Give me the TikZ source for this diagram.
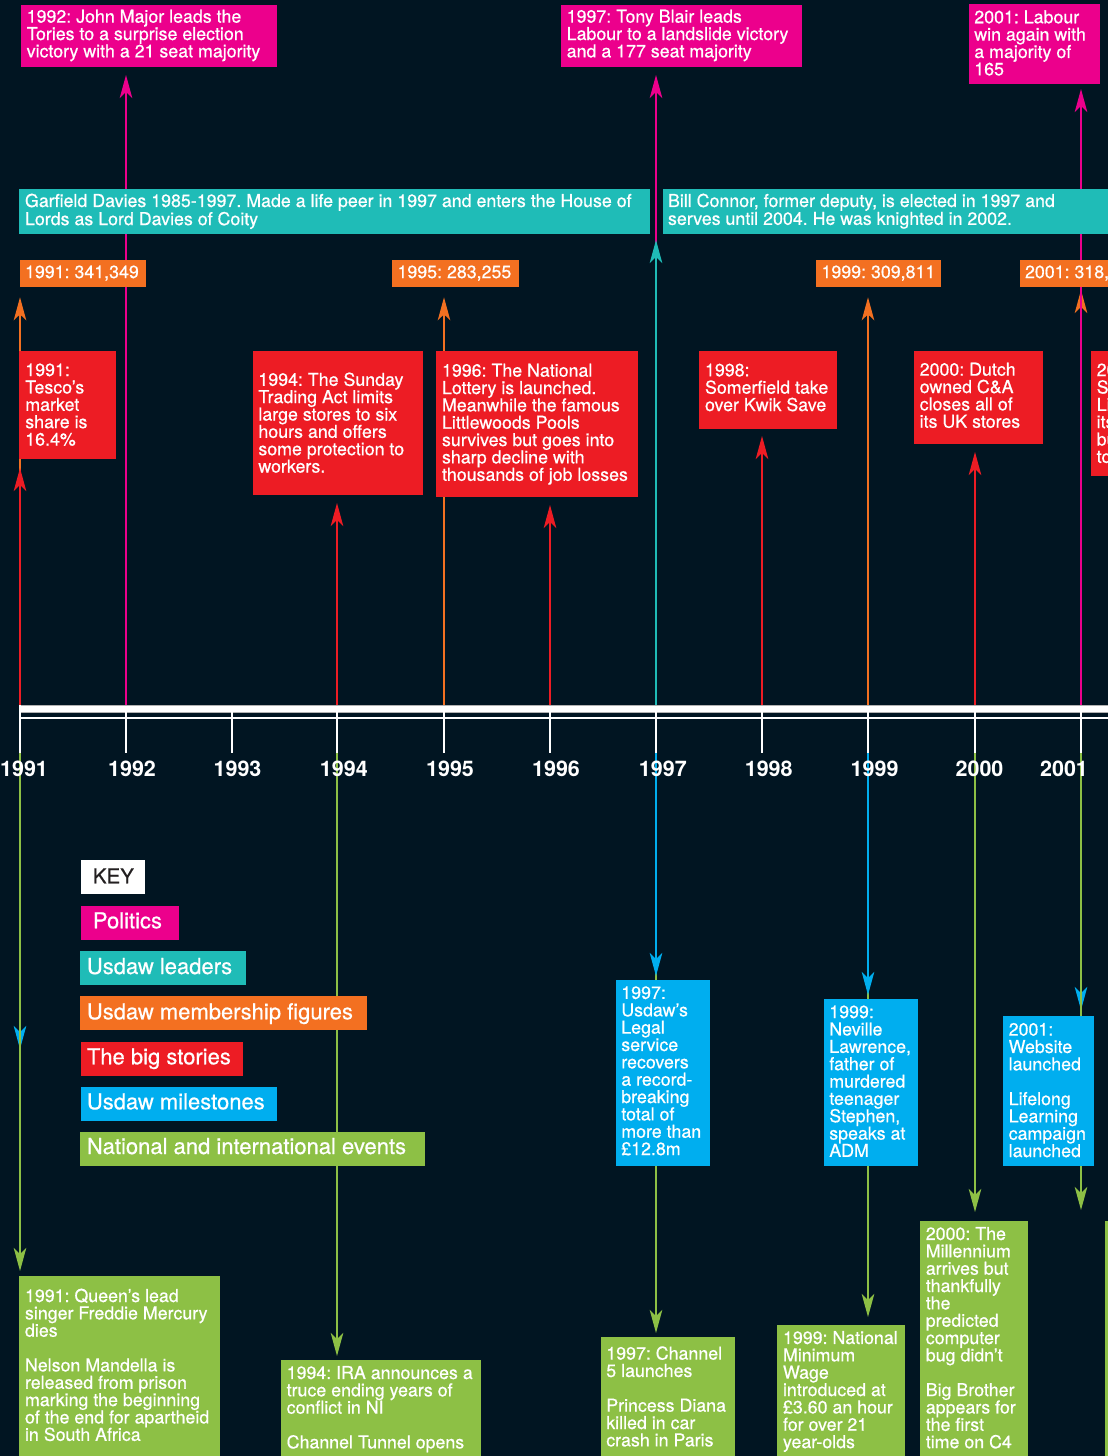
\documentclass[tikz,border=0pt]{standalone}
\usepackage{fontspec}
\setmainfont{TeX Gyre Heros}
\newfontfamily\medfont{TeX Gyre Heros}[FakeBold=0.6]
\usetikzlibrary{arrows.meta}
\definecolor{bg}{HTML}{011522}
\definecolor{cmag}{HTML}{EC008C}
\definecolor{cteal}{HTML}{1FBCB7}
\definecolor{corange}{HTML}{F37021}
\definecolor{cred}{HTML}{ED1C24}
\definecolor{cblue}{HTML}{00AEEF}
\definecolor{cgreen}{HTML}{8DC045}
\definecolor{ckey}{HTML}{231F20}
\newcommand\bodyfont{\medfont\frenchspacing\fontsize{17.8pt}{17.35pt}\selectfont}
\newcommand\tealfont{\medfont\frenchspacing\fontsize{17.8pt}{16.8pt}\selectfont}
\newcommand\keyfont{\medfont\fontsize{22pt}{24pt}\selectfont}
\newcommand\yearfont{\fontsize{21.5pt}{23pt}\selectfont\bfseries}
\pgfdeclarelayer{bgl}
\pgfdeclarelayer{lines}
\pgfsetlayers{bgl,lines,main}
\begin{document}
\begin{tikzpicture}[x=1pt,y=-1pt,
  conn/.style={line width=2pt,-{Stealth[length=23pt,width=12.5pt,inset=6pt]}},
  bx/.style 2 args={anchor=north west,inner sep=0pt,outer sep=0pt,minimum width=#1,minimum height=#2},
  txt/.style={anchor=north west,inner sep=0pt,outer sep=0pt,align=left,font=\bodyfont,text=white},
  keytxt/.style={anchor=base west,inner sep=0pt,font=\keyfont,text=white},
  yr/.style={anchor=base,inner sep=0pt,font=\yearfont,text=white},
  tickline/.style={white,line width=2pt},
]
\useasboundingbox (0,0) rectangle (1108,1456);
\begin{pgfonlayer}{bgl}
\fill[bg] (0,0) rectangle (1108,1456);
\end{pgfonlayer}
\clip (0,0) rectangle (1108,1456);

% year coordinates on the axis
\foreach \yy/\xx in {1991/20,1992/126,1993/232,1994/337,1995/444,1996/550,1997/656,1998/762,1999/868,2000/975,2001/1081}{
  \coordinate (a\yy) at (\xx,705);
  \coordinate (b\yy) at (\xx,718);
}
\coordinate (e1991) at (20,1049);

% ---------- Politics (magenta)
\node[bx={256pt}{61.7pt},fill=cmag] (m1992) at (21,5) {};
\node[txt] (m1992t) at (26.7,9.7) {1992: John Major leads the\\Tories to a surprise election\\victory with a 21 seat majority};
\node[bx={241pt}{61.7pt},fill=cmag] (m1997) at (561,5) {};
\node[txt] (m1997t) at (566.7,9.7) {1997: Tony Blair leads\\Labour to a landslide victory\\and a 177 seat majority};
\node[bx={130.7pt}{79.7pt},fill=cmag] (m2001) at (969,4) {};
\node[txt] (m2001t) at (974.3,10.3) {2001: Labour\\win again with\\a majority of\\165};

% ---------- Usdaw leaders (teal)
\node[bx={630.7pt}{44.7pt},fill=cteal] (t1) at (19,189) {};
\node[txt,font=\tealfont] (t1t) at (25,193.7) {Garfield Davies 1985-1997. Made a life peer in 1997 and enters the House of\\Lords as Lord Davies of Coity};
\node[bx={460pt}{44.7pt},fill=cteal] (t2) at (663,189) {};
\node[txt,font=\tealfont] (t2t) at (668,193.7) {Bill Connor, former deputy, is elected in 1997 and\\serves until 2004. He was knighted in 2002.};

% ---------- Membership figures (orange)
\node[bx={125.7pt}{27.3pt},fill=corange] (o1991) at (20,260) {};
\node[txt] (o1991t) at (25,265.5) {1991: 341,349};
\node[bx={126.4pt}{27.3pt},fill=corange] (o1995) at (392.3,260) {};
\node[txt] (o1995t) at (397.5,265.5) {1995: 283,255};
\node[bx={125pt}{27.3pt},fill=corange] (o1999) at (816,260) {};
\node[txt] (o1999t) at (821.5,265.5) {1999: 309,811};
\node[bx={100pt}{27.3pt},fill=corange] (o2001) at (1020,260) {};
\node[txt] (o2001t) at (1025,265.5) {2001: 318,};

% ---------- Big stories (red)
\node[bx={96.7pt}{108.3pt},fill=cred] (r1991) at (19,351) {};
\node[txt] (r1991t) at (25.3,363.5) {1991:\\Tesco’s\\market\\share is\\16.4\%};
\node[bx={169.6pt}{143.7pt},fill=cred] (r1994) at (253,351) {};
\node[txt] (r1994t) at (258.4,372.5) {1994: The Sunday\\Trading Act limits\\large stores to six\\hours and offers\\some protection to\\workers.};
\node[bx={202pt}{145.7pt},fill=cred] (r1996) at (436,351) {};
\node[txt] (r1996t) at (442,363.7) {1996: The National\\Lottery is launched.\\Meanwhile the famous\\Littlewoods Pools\\survives but goes into\\sharp decline with\\thousands of job losses};
\node[bx={137.7pt}{78pt},fill=cred] (r1998) at (699,351) {};
\node[txt] (r1998t) at (705,363.7) {1998:\\Somerfield take\\over Kwik Save};
\node[bx={129pt}{92.7pt},fill=cred] (r2000) at (914,351) {};
\node[txt] (r2000t) at (919.7,362.7) {2000: Dutch\\owned C\&A\\closes all of\\its UK stores};
\node[bx={40pt}{125pt},fill=cred] (r2001) at (1091.3,351) {};
\node[txt] (r2001t) at (1096.7,363.5) {20\\S\\Li\\its\\bu\\to};

% ---------- Usdaw milestones (blue)
\node[bx={93.7pt}{185.7pt},fill=cblue] (u1997) at (616,980) {};
\node[txt] (u1997t) at (621.3,986.3) {1997:\\Usdaw’s\\Legal\\service\\recovers\\a record-\\breaking\\total of\\more than\\£12.8m};
\node[bx={93.7pt}{166.7pt},fill=cblue] (u1999) at (824,999) {};
\node[txt] (u1999t) at (829.3,1005.5) {1999:\\Neville\\Lawrence,\\father of\\murdered\\teenager\\Stephen,\\speaks at\\ADM};
\node[bx={90.7pt}{149.7pt},fill=cblue] (u2001) at (1003,1016) {};
\node[txt] (u2001t) at (1008.7,1023) {2001:\\Website\\launched\\[17.35pt]Lifelong\\Learning\\campaign\\launched};

% ---------- National and international events (green)
\node[bx={200.7pt}{200pt},fill=cgreen] (g1991) at (19.3,1276) {};
\node[txt] (g1991t) at (25,1288.7) {1991: Queen’s lead\\singer Freddie Mercury\\dies\\[17.35pt]Nelson Mandella is\\released from prison\\marking the beginning\\of the end for apartheid\\in South Africa};
\node[bx={200pt}{120pt},fill=cgreen] (g1994) at (281,1360) {};
\node[txt] (g1994t) at (286.7,1366) {1994: IRA announces a\\truce ending years of\\conflict in NI\\[17.35pt]Channel Tunnel opens};
\node[bx={133.5pt}{140pt},fill=cgreen] (g1997) at (601,1337) {};
\node[txt] (g1997t) at (606.3,1346.3) {1997: Channel\\5 launches\\[17.35pt]Princess Diana\\killed in car\\crash in Paris};
\node[bx={127.6pt}{150pt},fill=cgreen] (g1999) at (777,1325) {};
\node[txt] (g1999t) at (783,1331) {1999: National\\Minimum\\Wage\\introduced at\\£3.60 an hour\\for over 21\\year-olds};
\node[bx={107.8pt}{250pt},fill=cgreen] (g2000) at (920,1221) {};
\node[txt] (g2000t) at (925.8,1227) {2000: The\\Millennium\\arrives but\\thankfully\\the\\predicted\\computer\\bug didn’t\\[17.35pt]Big Brother\\appears for\\the first\\time on C4};
\node[bx={50pt}{250pt},fill=cgreen] (g2001) at (1105,1221) {};

% ---------- Key
\node[bx={64pt}{33.7pt},fill=white] (kKey) at (81,860) {};
\node[keytxt,text=ckey,font=\medfont\fontsize{20.5pt}{22pt}\selectfont] (kKeyt) at (92.7,883.3) {KEY};
\node[bx={98pt}{33.7pt},fill=cmag] (kPol) at (81,906) {};
\node[keytxt] (kPolt) at (92.7,928.3) {Politics};
\node[bx={165.7pt}{33.7pt},fill=cteal] (kLead) at (80,951) {};
\node[keytxt] (kLeadt) at (86.7,974) {Usdaw leaders};
\node[bx={287pt}{33.7pt},fill=corange] (kMem) at (80,996) {};
\node[keytxt] (kMemt) at (86.7,1019.3) {Usdaw membership figures};
\node[bx={162pt}{33.7pt},fill=cred] (kBig) at (81,1042) {};
\node[keytxt] (kBigt) at (86.7,1064.3) {The big stories};
\node[bx={196pt}{33.7pt},fill=cblue] (kMil) at (81,1087) {};
\node[keytxt] (kMilt) at (86.7,1109.3) {Usdaw milestones};
\node[bx={345pt}{33.7pt},fill=cgreen] (kNat) at (80,1132) {};
\node[keytxt] (kNatt) at (86.7,1154) {National and international events};

% ---------- connectors
\begin{pgfonlayer}{lines}
\clip (0,0) rectangle (1108,1456);
% above the axis
\draw[conn,corange,shorten >=10pt] (a1991) -- (a1991 |- o1991.south);
\draw[conn,cred,shorten >=8.7pt] (a1991) -- (a1991 |- r1991.south);
\draw[conn,cmag,shorten >=8.3pt] (a1992) -- (a1992 |- m1992.south);
\draw[conn,cred,shorten >=8.3pt] (a1994) -- (a1994 |- r1994.south);
\draw[conn,corange,shorten >=10pt] (a1995) -- (a1995 |- o1995.south);
\draw[conn,cred,shorten >=8.3pt] (a1996) -- (a1996 |- r1996.south);
\draw[conn,cmag,shorten >=8.3pt] (a1997) -- (a1997 |- m1997.south);
\draw[conn,cteal,shorten >=6.3pt] (a1997) -- (a1997 |- t2.south);
\draw[conn,cred,shorten >=7pt] (a1998) -- (a1998 |- r1998.south);
\draw[conn,corange,shorten >=10pt] (a1999) -- (a1999 |- o1999.south);
\draw[conn,cred,shorten >=8.3pt] (a2000) -- (a2000 |- r2000.south);
\draw[conn,corange,shorten >=2.7pt] (a2001) -- (a2001 |- o2001.south);
\draw[conn,cmag,shorten >=5.3pt] (a2001) -- (a2001 |- m2001.south);
% below the axis
\draw[conn,cblue] (b1991) -- (e1991);
\draw[conn,cgreen,shorten >=5pt] (b1991) -- (b1991 |- g1991.north);
\draw[conn,cgreen,shorten >=4pt] (b1994) -- (b1994 |- g1994.north);
\draw[conn,cgreen,shorten >=4pt] (b1997) -- (b1997 |- g1997.north);
\draw[conn,cblue,shorten >=4pt] (b1997) -- (b1997 |- u1997.north);
\draw[conn,cgreen,shorten >=8pt] (b1999) -- (b1999 |- g1999.north);
\draw[conn,cblue,shorten >=4pt] (b1999) -- (b1999 |- u1999.north);
\draw[conn,cgreen,shorten >=9pt] (b2000) -- (b2000 |- g2000.north);
\draw[conn,cblue,shorten >=6pt] (b2001) -- (b2001 |- u2001.north);
\draw[conn,cgreen,shorten >=11pt] (b2001) -- (b2001 |- g2001.north);
\end{pgfonlayer}

% ---------- axis
\fill[white,draw=gray!60,line width=0.5pt] (19,705) rectangle (1112,712);
\fill[white] (19,716.7) rectangle (1112,718.7);
\foreach \yy in {1991,...,2001}{
  \draw[tickline] (a\yy) ++(0,7) -- ++(0,41);
}
\draw[tickline] (a1991) -- ++(0,48);
\node[yr] (y1991) at (24,776) {1991};
\node[yr] (y1992) at (132,776) {1992};
\node[yr] (y1993) at (237.5,776) {1993};
\node[yr] (y1994) at (343.8,776) {1994};
\node[yr] (y1995) at (450,776) {1995};
\node[yr] (y1996) at (556,776) {1996};
\node[yr] (y1997) at (662.8,776) {1997};
\node[yr] (y1998) at (768.7,776) {1998};
\node[yr] (y1999) at (874.6,776) {1999};
\node[yr] (y2000) at (979.5,776) {2000};
\node[yr] (y2001) at (1064,776) {2001};
\end{tikzpicture}
\end{document}
